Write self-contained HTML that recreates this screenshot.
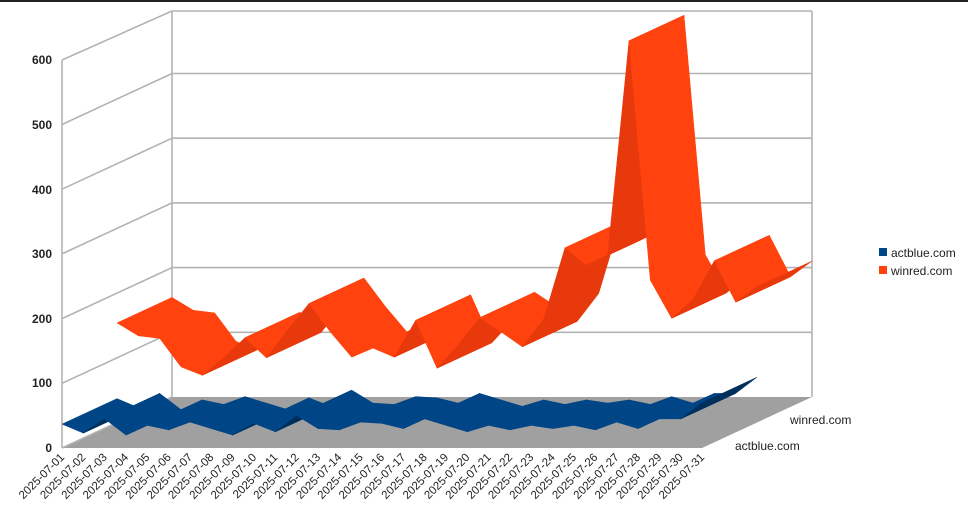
<!DOCTYPE html>
<html><head><meta charset="utf-8"><style>
body{margin:0;background:#fff;}
svg{display:block;font-family:"Liberation Sans",sans-serif;}
</style></head><body>
<svg id="s" width="974" height="519" viewBox="0 0 974 519" xmlns="http://www.w3.org/2000/svg">
<rect x="0" y="0" width="974" height="519" fill="#fff"/>
<rect x="0" y="0" width="968" height="2" fill="#222"/>
<polygon points="62,448 702,448 812,397 172,397" fill="#a0a0a0"/>
<g stroke="#b3b3b3" stroke-width="1.6" fill="none">
<line x1="62" y1="448" x2="62" y2="60"/>
<line x1="172" y1="397" x2="172" y2="11"/>
<line x1="812" y1="397" x2="812" y2="11"/>
<line x1="172" y1="11" x2="812" y2="11"/>
<line x1="62" y1="60" x2="172" y2="11"/>
<g id="grid"></g>
</g>
<g id="series"></g>
<g font-size="12" fill="#222" font-weight="bold" text-anchor="end" style="font-weight:600">
<text x="52" y="452">0</text><text x="52" y="387">100</text><text x="52" y="323">200</text>
<text x="52" y="258">300</text><text x="52" y="194">400</text><text x="52" y="129">500</text><text x="52" y="64">600</text>
</g>
<g id="xl" font-size="11.5" fill="#222" text-anchor="end"></g>
<text x="790" y="424" font-size="12" fill="#222">winred.com</text>
<text x="735" y="450" font-size="12" fill="#222">actblue.com</text>
<rect x="879" y="248" width="8" height="8" fill="#004586"/>
<text x="891" y="257" font-size="12" fill="#222">actblue.com</text>
<rect x="879" y="266" width="8" height="8" fill="#ff420e"/>
<text x="891" y="275" font-size="12" fill="#222">winred.com</text>
</svg>
<script>
var NS="http://www.w3.org/2000/svg";
function el(t,a,p){var e=document.createElementNS(NS,t);for(var k in a)e.setAttribute(k,a[k]);p.appendChild(e);return e;}
var g=document.getElementById('grid');
for(var v=0;v<=500;v+=100){var yf=448-v*0.647,yb=397-v*0.647;
 el('line',{x1:62,y1:yf,x2:172,y2:yb},g);
 if(v>0)el('line',{x1:172,y1:yb,x2:812,y2:yb},g);}
var xl=document.getElementById('xl');
for(var i=0;i<31;i++){var x=62+i*21.333;var d=(i+1<10?'0':'')+(i+1);
 var t=el('text',{x:x+3,y:458,transform:'rotate(-45 '+(x+3)+' 458)'},xl);t.textContent='2025-07-'+d;}
var win=[154,134,130,86,73,100,131,100,143,184,140,101,115,101,158,84,120,162,140,117,160,270,243,259,590,220,161,190,250,186,210];
var act=[37,23,45,20,35,28,40,30,20,38,25,50,30,28,40,38,30,45,35,25,35,28,35,30,35,28,40,30,45,45,70];
var S=document.getElementById('series');
function ribbon(vals,d0,d1,c1,c2){
 for(var i=0;i<vals.length-1;i++){
  function pt(j,d){return [62+j*21.333+110*d,448-vals[j]*0.647-51*d];}
  var a=pt(i,d0),b=pt(i+1,d0),c=pt(i+1,d1),e=pt(i,d1);
  var cr=(b[0]-a[0])*(e[1]-a[1])-(b[1]-a[1])*(e[0]-a[0]);
  var col=cr<0?c1:c2;
  el('polygon',{points:[a,b,c,e].map(function(q){return q[0].toFixed(1)+','+q[1].toFixed(1)}).join(' '),fill:col,stroke:col,'stroke-width':0.5},S);
 }
}
ribbon(win,0.5,1,'#ff420e','#e8390c');
ribbon(act,0,0.5,'#004586','#002f5c');
</script>
</body></html>
